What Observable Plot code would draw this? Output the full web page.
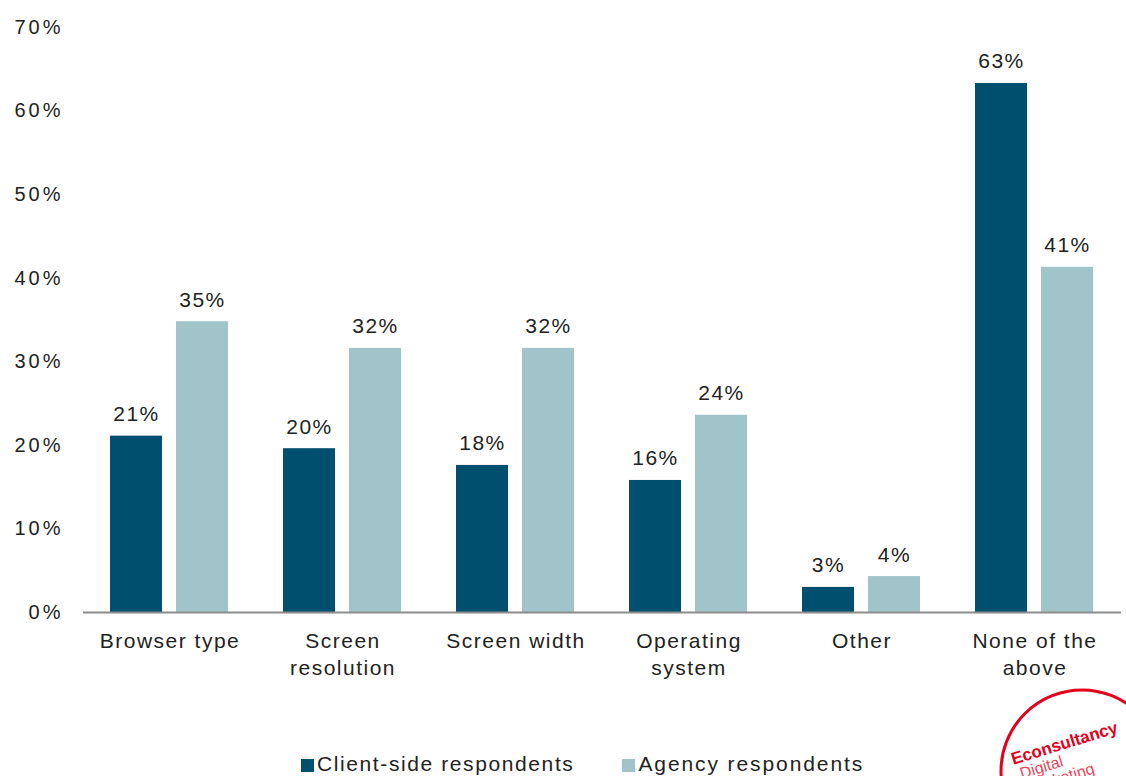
<!DOCTYPE html>
<html>
<head>
<meta charset="utf-8">
<script src="https://cdn.jsdelivr.net/npm/d3@7"></script>
<script src="https://cdn.jsdelivr.net/npm/@observablehq/plot@0.6"></script>
<style>
  html, body { margin: 0; padding: 0; background: #fff; overflow: hidden; }
  #wrap { position: relative; width: 1126px; height: 776px; font-family: "Liberation Sans", Arial, sans-serif; }
  #legend { position: absolute; left: 301px; top: 752px; display: flex; align-items: center; font-size: 21px; line-height: 24px; color: #222; letter-spacing: 1.6px; white-space: nowrap; }
  #legend .sw { display: inline-block; width: 13px; height: 13px; margin-right: 3px; margin-top: 3px; }
  #legend .item { display: flex; align-items: center; margin-right: 48px; }
  #legend .item.agency { letter-spacing: 1.9px; }
  #logo { position: absolute; left: 0; top: 0; pointer-events: none; }
</style>
</head>
<body>
<div id="wrap"><div id="chart"></div><div id="legend"></div></div>
<script>
const categories = ["Browser type", "Screen resolution", "Screen width", "Operating system", "Other", "None of the above"];
const categoryLabels = ["Browser type", "Screen\nresolution", "Screen width", "Operating\nsystem", "Other", "None of the\nabove"];
const seriesNames = ["Client-side respondents", "Agency respondents"];
const clientValues = [21.1, 19.6, 17.6, 15.8, 3.0, 63.3];
const agencyValues = [34.8, 31.6, 31.6, 23.6, 4.3, 41.3];
const colors = ["#004f6e", "#a1c4ca"];
const yTicks = [0, 10, 20, 30, 40, 50, 60, 70];

const data = [];
categories.forEach((c, i) => {
  data.push({category: c, series: seriesNames[0], value: clientValues[i]});
  data.push({category: c, series: seriesNames[1], value: agencyValues[i]});
});
const labelMap = new Map(categories.map((c, i) => [c, categoryLabels[i]]));

const chart = Plot.plot({
  width: 1126,
  height: 740,
  marginTop: 27,
  marginBottom: 128,
  marginLeft: 81,
  marginRight: 4,
  style: {fontFamily: "Liberation Sans, Arial, sans-serif", fontSize: "20px", color: "#222", background: "transparent", letterSpacing: "1.5px"},
  fx: {domain: categories, padding: 0, axis: null},
  x: {domain: seriesNames, paddingInner: 0.21, paddingOuter: 0.4, axis: null},
  y: {domain: [0, 70], ticks: yTicks, axis: null},
  color: {domain: seriesNames, range: colors},
  marks: [
    Plot.axisY({ticks: yTicks, tickFormat: d => d + "%", tickSize: 0, tickPadding: 20, fontSize: 20, fill: "#222", label: null}),
    Plot.barY(data, {fx: "category", x: "series", y: "value", fill: "series"}),
    Plot.ruleY([0], {stroke: "#8c8c8c", strokeWidth: 2}),
    Plot.text(data, {fx: "category", x: "series", y: "value", text: d => Math.round(d.value) + "%", dy: -15, lineAnchor: "bottom", fontSize: 21, fill: "#222"}),
    Plot.text(categories, {fx: d => d, text: d => labelMap.get(d), frameAnchor: "bottom", lineAnchor: "top", dy: 16, lineHeight: 1.3, fontSize: 21, fill: "#222"})
  ]
});
chart.querySelectorAll('g[aria-label="y-axis tick label"]').forEach(g => g.style.letterSpacing = "3px");
document.getElementById("chart").appendChild(chart);

const legend = document.getElementById("legend");
seriesNames.forEach((s, i) => {
  const item = document.createElement("span");
  item.className = "item" + (i === 1 ? " agency" : "");
  const sw = document.createElement("span");
  sw.className = "sw";
  sw.style.background = colors[i];
  item.appendChild(sw);
  item.appendChild(document.createTextNode(s));
  legend.appendChild(item);
});

// Econsultancy stamp
const ns = "http://www.w3.org/2000/svg";
const logo = document.createElementNS(ns, "svg");
logo.setAttribute("id", "logo");
logo.setAttribute("width", 1126);
logo.setAttribute("height", 776);
logo.innerHTML = `
  <circle cx="1082" cy="771" r="81" fill="none" stroke="#e3001b" stroke-width="3"/>
  <g transform="rotate(-17 1060 740)" font-family="Liberation Sans, Arial, sans-serif" fill="#e3001b">
    <text x="1008" y="750" font-size="17" font-weight="bold">Econsultancy</text>
    <text x="1012" y="766" font-size="16" opacity="0.75">Digital</text>
    <text x="1014" y="782" font-size="16" opacity="0.75">marketing</text>
  </g>`;
document.getElementById("wrap").appendChild(logo);
</script>
</body>
</html>
